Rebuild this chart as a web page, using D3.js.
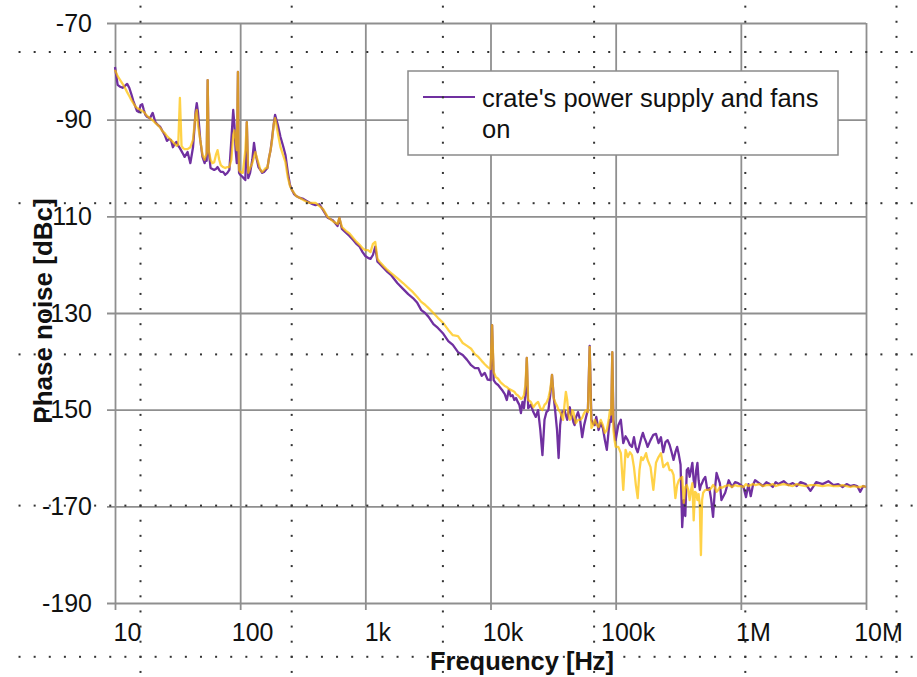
<!DOCTYPE html>
<html>
<head>
<meta charset="utf-8">
<script src="https://cdn.jsdelivr.net/npm/d3@7"></script>
<style>
  body { margin: 0; background: #fff; }
  svg { display: block; font-family: "Liberation Sans", Arial, sans-serif; }
</style>
</head>
<body>
<svg width="917" height="677"></svg>
<script>
// frequency points (Hz), one row per decade
const freqHz = [
  10, 10.5, 11, 11.5, 12, 12.5, 13, 13.5, 14, 14.5, 15, 15.5, 16, 16.5, 17, 17.5, 18, 19, 20, 21,
  22, 23, 24, 25, 26, 27, 28, 29, 30, 31, 32, 33, 34, 35, 36, 38, 40, 42, 43, 44,
  45, 46, 48, 50, 52, 53, 54, 55, 56, 58, 60, 62, 64, 66, 68, 70, 73, 76, 79, 82,
  85, 88, 90, 92, 94, 96, 97, 98,
  100, 105, 110, 113, 116, 120, 125, 129, 132, 136, 140, 145, 150, 155, 160, 165, 170, 175, 180, 185,
  190, 195, 200, 210, 220, 230, 240, 250, 260, 270, 280, 300, 320, 340, 360, 380, 400, 430, 460, 500,
  550, 600, 620, 650, 700, 750, 800, 850, 900, 950,
  1000, 1050, 1100, 1150, 1200, 1250, 1300, 1400, 1500, 1600, 1800, 2000, 2200, 2400, 2600, 2800,
  3000, 3200, 3500, 3800, 4200, 4600, 5000, 5500, 6000, 6500, 7000, 7500, 8000, 8500, 9000, 9500,
  10000, 10300, 10600, 11000, 11500, 12000, 12500, 13000, 13500, 14000, 14500, 15000, 15500, 16000,
  16500, 17000, 17500, 18000, 18500, 19000, 19500, 20000, 21000, 22000, 23000, 24000, 25000, 26000,
  27000, 28000, 29000, 30000, 31000, 32000, 33000, 34000, 35000, 36000, 37000, 38000, 39000, 40000,
  41000, 42000, 43000, 44000, 45000, 46000, 47000, 48000, 50000, 52000, 54000, 56000, 58000, 60000,
  62000, 64000, 66000, 68000, 70000, 73000, 76000, 79000, 82000, 85000, 88000, 90000, 92000, 94000,
  96000, 98000,
  100000, 105000, 110000, 115000, 120000, 125000, 130000, 135000, 140000, 145000, 150000, 155000,
  160000, 165000, 170000, 175000, 180000, 190000, 200000, 210000, 220000, 230000, 240000, 250000,
  260000, 270000, 280000, 290000, 300000, 310000, 320000, 330000, 340000, 350000, 360000, 370000,
  380000, 390000, 400000, 410000, 420000, 430000, 440000, 450000, 460000, 470000, 480000, 490000,
  500000, 520000, 540000, 560000, 580000, 600000, 620000, 640000, 660000, 680000, 700000, 750000,
  800000, 850000, 900000, 950000,
  1e6, 1.05e6, 1.1e6, 1.15e6, 1.2e6, 1.25e6, 1.3e6, 1.4e6, 1.5e6, 1.6e6, 1.7e6, 1.8e6, 1.9e6, 2e6,
  2.2e6, 2.4e6, 2.6e6, 2.8e6, 3e6, 3.3e6, 3.6e6, 4e6, 4.5e6, 5e6, 5.5e6, 6e6, 6.5e6, 7e6, 7.5e6,
  8e6, 8.5e6, 9e6, 9.5e6, 1e7
];

// crate's power supply and fans on (purple), dBc
const fansOn = [
  -79.1, -82.8, -83.2, -83.4, -83.0, -82.6, -83.4, -84.7, -86.1, -87.2,
  -88.2, -88.4, -87.0, -86.8, -88.0, -89.0, -89.4, -89.7, -88.6, -90.5,
  -91.1, -91.5, -92.4, -93.2, -94.4, -94.0, -94.2, -95.7, -95.0, -94.6,
  -95.4, -95.9, -96.5, -97.1, -97.7, -96.7, -99.0, -95.7, -92.2, -88.4,
  -86.6, -88.4, -94.2, -97.7, -99.0, -98.0, -98.5, -81.8, -96.3, -100.0,
  -100.2, -100.4, -100.2, -99.8, -100.4, -100.8, -100.8, -101.4, -101.0, -100.4,
  -94.2, -88.0, -91.1, -96.3, -99.0, -80.1, -96.0, -101.0,
  -101.4, -101.9, -102.5, -90.5, -102.1, -101.0, -98.3, -94.8, -96.7, -98.3,
  -99.8, -100.4, -101.0, -100.8, -100.4, -100.0, -97.9, -96.3, -93.8, -91.1,
  -89.0, -90.1, -91.1, -93.6, -95.4, -97.3, -100.8, -103.5, -104.6, -105.4,
  -105.8, -106.2, -106.4, -106.8, -107.2, -107.5, -107.7, -107.5, -108.7, -110.3,
  -110.8, -112.0, -110.3, -112.6, -113.4, -114.1, -114.9, -115.7, -116.3, -117.4,
  -118.2, -118.6, -118.8, -118.0, -116.3, -119.4, -119.8, -120.7, -121.5, -122.1,
  -123.8, -125.0, -126.1, -126.9, -127.9, -129.4, -130.0, -130.8, -132.3, -133.1,
  -134.3, -135.8, -136.6, -138.1, -138.7, -139.7, -140.8, -141.4, -141.4, -143.0,
  -142.4, -143.8,
  -143.9, -132.5, -143.9, -144.5, -144.9, -145.5, -146.1, -146.8, -148.0, -145.9,
  -147.2, -147.0, -148.0, -147.6, -148.4, -149.0, -150.7, -148.4, -149.7, -147.0,
  -139.3, -149.7, -149.0, -150.5, -151.5, -150.1, -154.2, -159.4, -152.1, -150.5,
  -150.1, -147.0, -142.8, -147.4, -150.7, -154.2, -160.0, -153.2, -150.7, -150.3,
  -150.1, -151.1, -152.1, -150.5, -149.5, -151.1, -151.5, -152.6, -153.2, -151.7,
  -150.5, -152.1, -155.7, -153.2, -151.5, -150.0, -136.8, -152.1, -152.9, -153.2,
  -151.5, -154.2, -152.8, -153.8, -156.3, -158.3, -154.2, -152.1, -152.5, -138.1,
  -152.1, -154.2,
  -156.3, -153.2, -152.1, -156.9, -155.5, -156.3, -157.3, -157.7, -155.7, -157.9,
  -158.8, -157.3, -155.9, -154.8, -155.9, -156.7, -157.7, -156.3, -155.2, -155.0,
  -156.9, -155.7, -158.8, -156.7, -156.3, -157.3, -158.8, -160.4, -158.8, -157.7,
  -159.4, -161.4, -174.3, -168.7, -172.0, -162.5, -162.1, -163.9, -162.5, -161.0,
  -164.6, -166.0, -162.5, -161.0, -164.6, -166.6, -165.6, -165.2, -164.6, -163.9,
  -166.6, -166.2, -168.7, -172.2, -166.6, -163.1, -164.2, -165.2, -168.7, -167.2,
  -164.6, -166.0, -165.0, -165.2,
  -165.6, -166.0, -168.1, -165.4, -167.9, -165.6, -164.6, -165.2, -165.8, -165.0,
  -165.4, -166.0, -165.0, -165.4, -164.8, -165.6, -165.2, -165.8, -165.0, -165.4,
  -166.8, -165.0, -165.4, -164.8, -165.6, -165.4, -166.0, -165.4, -165.8, -165.6,
  -165.8, -167.0, -165.8, -166.0
];

// second trace (yellow), dBc
const fansOff = [
  -79.7, -81.0, -81.8, -82.6, -83.4, -84.3, -85.1, -85.9, -86.6, -87.2,
  -87.6, -87.8, -88.0, -88.2, -88.4, -88.8, -89.2, -89.7, -90.1, -90.7,
  -91.1, -91.7, -92.4, -92.8, -93.4, -93.8, -94.2, -94.6, -95.0, -95.4,
  -95.2, -85.5, -95.4, -95.9, -96.1, -96.1, -95.7, -94.2, -91.5, -89.0,
  -88.0, -91.1, -94.2, -97.3, -98.3, -97.5, -97.0, -81.8, -96.3, -98.3,
  -99.0, -98.8, -97.3, -96.3, -98.3, -99.4, -99.8, -100.0, -99.8, -99.8,
  -98.3, -93.2, -92.2, -94.2, -96.3, -80.1, -95.0, -100.4,
  -100.8, -101.0, -96.3, -90.5, -101.0, -100.0, -99.0, -97.7, -96.7, -97.9,
  -99.0, -100.4, -100.8, -100.4, -100.0, -100.0, -97.9, -96.3, -94.2, -91.1,
  -89.7, -91.1, -92.8, -95.7, -97.3, -98.8, -101.9, -103.7, -104.6, -105.2,
  -105.8, -106.2, -106.6, -107.0, -107.2, -107.2, -107.2, -107.9, -108.5, -110.1,
  -111.0, -111.6, -110.3, -112.2, -113.0, -113.6, -114.5, -115.3, -115.9, -116.6,
  -117.0, -117.0, -117.4, -115.7, -115.3, -118.8, -119.4, -120.3, -121.1, -121.7,
  -122.8, -123.8, -124.8, -125.7, -126.7, -127.7, -128.3, -129.0, -130.0, -131.0,
  -132.1, -133.5, -134.6, -134.8, -136.2, -136.8, -137.4, -138.5, -139.1, -139.9,
  -140.6, -141.2,
  -141.6, -132.5, -142.2, -143.2, -143.6, -144.3, -144.7, -145.1, -145.3, -145.7,
  -145.9, -146.1, -146.3, -146.8, -147.0, -147.4, -147.8, -147.6, -147.0, -144.9,
  -139.3, -148.0, -148.4, -149.5, -148.8, -148.4, -149.7, -150.1, -149.0, -148.6,
  -147.6, -145.9, -142.8, -147.6, -148.6, -149.2, -150.1, -150.5, -151.3, -152.1,
  -149.0, -146.3, -148.0, -151.1, -152.1, -151.7, -150.1, -150.5, -151.7, -152.8,
  -152.1, -152.1, -151.7, -150.7, -150.1, -150.5, -137.0, -153.8, -153.2, -152.1,
  -152.9, -153.6, -152.1, -153.2, -154.8, -154.2, -152.1, -150.1, -151.0, -138.1,
  -154.2, -156.3,
  -157.7, -157.7, -159.0, -166.6, -158.3, -159.8, -158.8, -159.4, -161.9, -165.6,
  -168.3, -162.5, -159.8, -160.4, -159.8, -159.0, -160.4, -161.9, -166.6, -161.0,
  -159.8, -159.0, -161.9, -161.4, -161.0, -162.5, -162.5, -163.5, -168.3, -165.6,
  -164.6, -164.2, -163.9, -169.3, -166.0, -165.6, -166.6, -168.7, -166.6, -165.2,
  -172.9, -167.0, -167.2, -168.7, -167.5, -169.7, -180.1, -168.7, -167.2, -166.6,
  -166.6, -166.6, -166.2, -165.6, -166.0, -167.0, -166.6, -166.0, -166.2, -165.8,
  -165.6, -166.0, -165.6, -165.8,
  -165.8, -166.0, -165.4, -165.8, -165.6, -165.4, -165.6, -165.4, -165.8, -165.6,
  -165.6, -165.4, -165.8, -165.6, -165.4, -165.6, -165.8, -165.4, -165.6, -165.8,
  -165.6, -165.6, -165.8, -165.6, -165.8, -165.8, -165.6, -165.8, -166.0, -165.8,
  -166.0, -166.0, -165.8, -166.0
];

const xTicks = [10, 100, 1e3, 1e4, 1e5, 1e6, 1e7];
const xTickLabels = ["10", "100", "1k", "10k", "100k", "1M", "10M"];
const yTicks = [-70, -90, -110, -130, -150, -170, -190];
const legendLines = ["crate's power supply and fans", "on"];

const svg = d3.select("svg"),
    width = +svg.attr("width"),
    height = +svg.attr("height");

const margin = {left: 115, right: 51, top: 23, bottom: 74};
const plotW = width - margin.left - margin.right,
    plotH = height - margin.top - margin.bottom;

const x = d3.scaleLog().domain([10, 1e7]).range([0, plotW]);
const y = d3.scaleLinear().domain([-190, -70]).range([plotH, 0]);

const gridColor = "#8f8f8f";
const g = svg.append("g").attr("transform", `translate(${margin.left},${margin.top})`);

// y axis + horizontal grid
g.append("g")
    .call(d3.axisLeft(y).tickValues(yTicks).tickFormat(d => String(d)).tickSize(0).tickPadding(23))
    .call(a => a.select(".domain").remove())
    .call(a => a.selectAll(".tick line")
        .attr("x1", -8).attr("x2", plotW)
        .attr("stroke", gridColor).attr("stroke-width", 1.8))
    .call(a => a.selectAll(".tick text")
        .attr("font-size", 25).attr("fill", "#111")
        .attr("font-family", "Liberation Sans, Arial, sans-serif"));

// x axis + vertical grid
g.append("g")
    .attr("transform", `translate(0,${plotH})`)
    .call(d3.axisBottom(x).tickValues(xTicks).tickFormat((d, i) => xTickLabels[i]).tickSize(0))
    .call(a => a.select(".domain").remove())
    .call(a => a.selectAll(".tick line")
        .attr("y1", -plotH).attr("y2", 7)
        .attr("stroke", gridColor).attr("stroke-width", 1.8))
    .call(a => a.selectAll(".tick text")
        .attr("dy", null).attr("y", 38).attr("x", 12)
        .attr("font-size", 25).attr("fill", "#111")
        .attr("font-family", "Liberation Sans, Arial, sans-serif"));

// traces
const line = d3.line()
    .x(d => x(d[0]))
    .y(d => y(d[1]));

g.append("path")
    .datum(freqHz.map((f, i) => [f, fansOn[i]]))
    .attr("fill", "none")
    .attr("stroke", "#7030a0")
    .attr("stroke-width", 2.3)
    .attr("stroke-linejoin", "round")
    .attr("d", line);

g.append("path")
    .datum(freqHz.map((f, i) => [f, fansOff[i]]))
    .attr("fill", "none")
    .attr("stroke", "#ffc000")
    .attr("stroke-opacity", 0.72)
    .attr("stroke-width", 2.3)
    .attr("stroke-linejoin", "round")
    .attr("d", line);

// legend
const lg = svg.append("g").attr("transform", "translate(408,71)");
lg.append("rect")
    .attr("width", 430).attr("height", 84)
    .attr("fill", "#fff").attr("stroke", "#8a8a8a").attr("stroke-width", 1.5);
lg.append("line")
    .attr("x1", 15).attr("x2", 67).attr("y1", 26).attr("y2", 26)
    .attr("stroke", "#7030a0").attr("stroke-width", 2);
lg.selectAll("text.leg")
    .data(legendLines)
    .enter().append("text")
    .attr("class", "leg")
    .attr("x", 74)
    .attr("y", (d, i) => 36 + i * 31)
    .attr("font-size", 25.5)
    .attr("fill", "#111")
    .text(d => d);

// axis titles
svg.append("text")
    .attr("x", 522)
    .attr("y", 670)
    .attr("text-anchor", "middle")
    .attr("font-size", 25.5)
    .attr("font-weight", "bold")
    .attr("fill", "#111")
    .text("Frequency [Hz]");

svg.append("text")
    .attr("transform", "translate(52,311) rotate(-90)")
    .attr("text-anchor", "middle")
    .attr("font-size", 26)
    .attr("font-weight", "bold")
    .attr("fill", "#111")
    .text("Phase noise [dBc]");

// dotted page grid lying over everything
const step = 151.2, dot = step / 10;
const cols = d3.range(6).map(k => 140.5 + k * step);
const rows = d3.range(5).map(k => 52 + k * step);
const dots = [];
cols.forEach(cx => d3.range(0, 45).forEach(j => dots.push([cx, 52 - 3 * dot + j * dot])));
rows.forEach(ry => d3.range(0, 60).forEach(j => dots.push([140.5 - 8 * dot + j * dot, ry])));
svg.append("g")
    .selectAll("rect")
    .data(dots.filter(d => d[0] < width && d[1] < height))
    .enter().append("rect")
    .attr("x", d => d[0] - 1)
    .attr("y", d => d[1] - 1)
    .attr("width", 2)
    .attr("height", 2)
    .attr("fill", "#333");
</script>
</body>
</html>
